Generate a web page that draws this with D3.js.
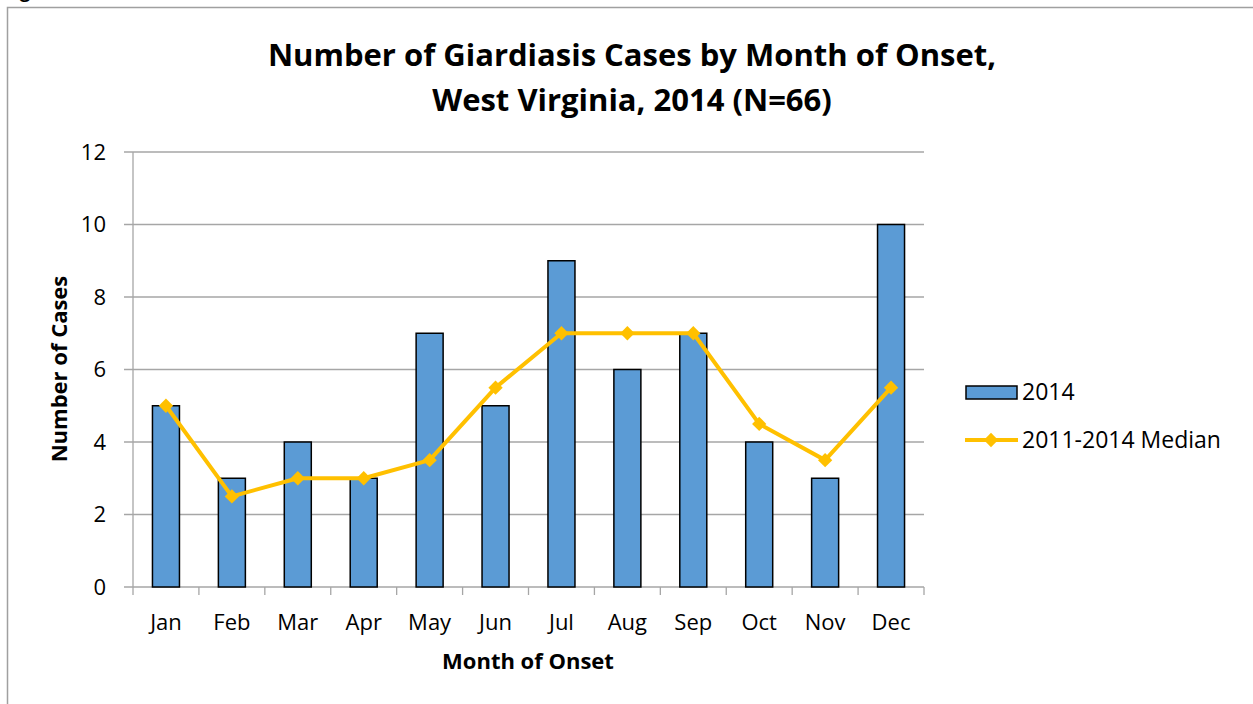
<!DOCTYPE html>
<html>
<head>
<meta charset="utf-8">
<script src="https://cdn.jsdelivr.net/npm/d3@7"></script>
<style>
  body { margin: 0; background: #fff; }
  text { font-family: "Open Sans", "Liberation Sans", sans-serif; fill: #000; }
</style>
</head>
<body>
<div id="chart"></div>
<script>
var months = ["Jan","Feb","Mar","Apr","May","Jun","Jul","Aug","Sep","Oct","Nov","Dec"];
var cases2014 = [5,3,4,3,7,5,9,6,7,4,3,10];
var median = [5,2.5,3,3,3.5,5.5,7,7,7,4.5,3.5,5.5];
var yTicks = [0,2,4,6,8,10,12];

var width = 1253, height = 704;
var plotLeft = 133, plotRight = 924, plotTop = 152, plotBottom = 587;

var svg = d3.select("#chart").append("svg")
    .attr("width", width)
    .attr("height", height);

// cut-off caption above the frame
svg.append("text")
    .attr("x", 20).attr("y", -2)
    .style("font-size", "18px").style("font-weight", "bold")
    .text("g");

// frame
svg.append("rect")
    .attr("x", 7.5).attr("y", 7.5)
    .attr("width", 1260).attr("height", 720)
    .attr("fill", "none")
    .attr("stroke", "#a0a0a0")
    .attr("stroke-width", 1.5);

var x = d3.scaleBand().domain(months).range([plotLeft, plotRight]).paddingInner(0).paddingOuter(0);
var y = d3.scaleLinear().domain([0, 12]).range([plotBottom, plotTop]);

// gridlines
svg.append("g").selectAll("line").data(yTicks).join("line")
    .attr("x1", plotLeft - 9).attr("x2", plotRight)
    .attr("y1", function(d){ return y(d); })
    .attr("y2", function(d){ return y(d); })
    .attr("stroke", "#a6a6a6").attr("stroke-width", 1.3);

// y axis line
svg.append("line")
    .attr("x1", plotLeft).attr("x2", plotLeft)
    .attr("y1", plotTop).attr("y2", plotBottom)
    .attr("stroke", "#a6a6a6").attr("stroke-width", 1.3);

// x ticks at category boundaries
var bounds = d3.range(months.length + 1).map(function(i){ return plotLeft + i * x.step(); });
svg.append("g").selectAll("line").data(bounds).join("line")
    .attr("x1", function(d){ return d; }).attr("x2", function(d){ return d; })
    .attr("y1", plotBottom).attr("y2", plotBottom + 8)
    .attr("stroke", "#a6a6a6").attr("stroke-width", 1.3);

// y tick labels
svg.append("g").selectAll("text").data(yTicks).join("text")
    .attr("x", 106)
    .attr("y", function(d){ return y(d); })
    .attr("dy", "0.35em")
    .attr("text-anchor", "end")
    .style("font-size", "22px")
    .text(function(d){ return d; });

// x tick labels
svg.append("g").selectAll("text").data(months).join("text")
    .attr("x", function(d){ return x(d) + x.bandwidth() / 2; })
    .attr("y", 630)
    .attr("text-anchor", "middle")
    .style("font-size", "22px")
    .text(function(d){ return d; });

// bars
var bw = 27;
svg.append("g").selectAll("rect").data(cases2014).join("rect")
    .attr("x", function(d, i){ return x(months[i]) + x.bandwidth() / 2 - bw / 2; })
    .attr("y", function(d){ return y(d); })
    .attr("width", bw)
    .attr("height", function(d){ return y(0) - y(d); })
    .attr("fill", "#5b9bd5")
    .attr("stroke", "#000")
    .attr("stroke-width", 1.5);

// median line
var line = d3.line()
    .x(function(d, i){ return x(months[i]) + x.bandwidth() / 2; })
    .y(function(d){ return y(d); });
svg.append("path").datum(median)
    .attr("d", line)
    .attr("fill", "none")
    .attr("stroke", "#ffc000")
    .attr("stroke-width", 4)
    .attr("stroke-linejoin", "round");

var diamond = d3.symbol().type(d3.symbolDiamond2).size(130);
svg.append("g").selectAll("path").data(median).join("path")
    .attr("d", diamond)
    .attr("transform", function(d, i){
        return "translate(" + (x(months[i]) + x.bandwidth() / 2) + "," + y(d) + ")";
    })
    .attr("fill", "#ffc000");

// title
svg.append("text")
    .attr("x", 632).attr("y", 66)
    .attr("text-anchor", "middle")
    .style("font-size", "31px").style("font-weight", "bold")
    .text("Number of Giardiasis Cases by Month of Onset,");
svg.append("text")
    .attr("x", 632).attr("y", 111)
    .attr("text-anchor", "middle")
    .style("font-size", "31px").style("font-weight", "bold")
    .text("West Virginia, 2014 (N=66)");

// axis titles
svg.append("text")
    .attr("transform", "translate(67,369) rotate(-90)")
    .attr("text-anchor", "middle")
    .style("font-size", "22px").style("font-weight", "bold")
    .text("Number of Cases");
svg.append("text")
    .attr("x", 528).attr("y", 669)
    .attr("text-anchor", "middle")
    .style("font-size", "22px").style("font-weight", "bold")
    .text("Month of Onset");

// legend
var lg = svg.append("g");
lg.append("rect")
    .attr("x", 966).attr("y", 386)
    .attr("width", 51).attr("height", 13)
    .attr("fill", "#5b9bd5").attr("stroke", "#000").attr("stroke-width", 1.5);
lg.append("text")
    .attr("x", 1022).attr("y", 392).attr("dy", "0.35em")
    .style("font-size", "23px")
    .text("2014");
lg.append("line")
    .attr("x1", 965).attr("x2", 1018)
    .attr("y1", 440).attr("y2", 440)
    .attr("stroke", "#ffc000").attr("stroke-width", 4);
lg.append("path")
    .attr("d", diamond)
    .attr("transform", "translate(991,440)")
    .attr("fill", "#ffc000");
lg.append("text")
    .attr("x", 1022).attr("y", 440).attr("dy", "0.35em")
    .style("font-size", "23px")
    .text("2011-2014 Median");
</script>
</body>
</html>
